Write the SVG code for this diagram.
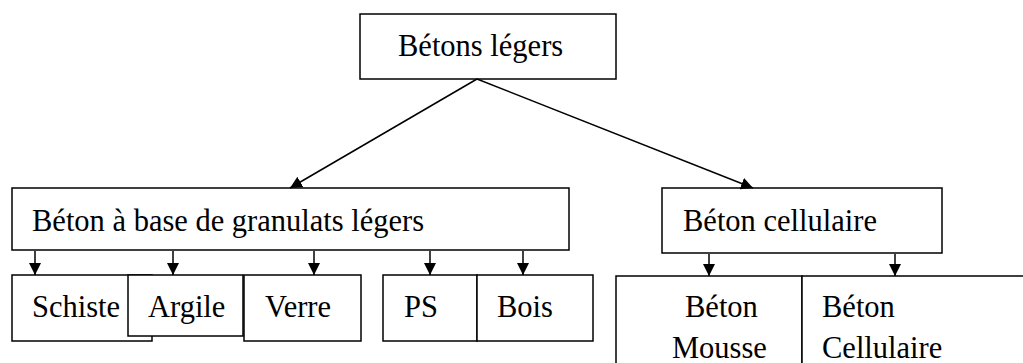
<svg xmlns="http://www.w3.org/2000/svg" width="1023" height="363" viewBox="0 0 1023 363">
<style>
rect{fill:#fff;stroke:#000;stroke-width:1.5}
text{font-family:"Liberation Serif","Times New Roman",serif;font-size:30.5px;fill:#000}
.c line{stroke:#000;stroke-width:1.5}
</style>
<defs>
<marker id="ah" viewBox="0 0 12 12" refX="12" refY="6" markerWidth="12" markerHeight="12" markerUnits="userSpaceOnUse" orient="auto">
<path d="M0,0 L12,6 L0,12 z" fill="#000"/>
</marker>
</defs>
<rect width="1023" height="363" style="stroke:none"/>
<g id="n-betons-legers"><rect x="360" y="14" width="256" height="65"/><text x="398" y="56">Bétons légers</text></g>
<g id="n-granulats"><rect x="12" y="188" width="557" height="62"/><text x="32" y="231">Béton à base de granulats légers</text></g>
<g id="n-cellulaire"><rect x="662" y="188" width="280" height="65"/><text x="683" y="231">Béton cellulaire</text></g>
<g id="n-schiste"><rect x="12" y="275" width="140" height="66"/><text x="32" y="317">Schiste</text></g>
<g id="n-argile"><rect x="128" y="275" width="115" height="61"/><text x="148" y="317">Argile</text></g>
<g id="n-verre"><rect x="244" y="275" width="117" height="66"/><text x="265" y="317">Verre</text></g>
<g id="n-ps"><rect x="383" y="275" width="94" height="66"/><text x="404" y="317">PS</text></g>
<g id="n-bois"><rect x="477" y="275" width="116" height="66"/><text x="497" y="317">Bois</text></g>
<g id="n-mousse"><rect x="616" y="276" width="186" height="100"/><text x="685" y="317">Béton</text><text x="672" y="358">Mousse</text></g>
<g id="n-beton-cellulaire"><rect x="802" y="276" width="240" height="100"/><text x="822" y="317">Béton</text><text x="822" y="358">Cellulaire</text></g>
<g id="connectors" class="c">
<line x1="477" y1="79" x2="290" y2="188" marker-end="url(#ah)"/>
<line x1="477" y1="79" x2="753" y2="188" marker-end="url(#ah)"/>
<line x1="35" y1="251" x2="35" y2="275" marker-end="url(#ah)"/>
<line x1="173" y1="251" x2="173" y2="275" marker-end="url(#ah)"/>
<line x1="314" y1="251" x2="314" y2="275" marker-end="url(#ah)"/>
<line x1="430" y1="251" x2="430" y2="275" marker-end="url(#ah)"/>
<line x1="523" y1="251" x2="523" y2="275" marker-end="url(#ah)"/>
<line x1="709" y1="254" x2="709" y2="276" marker-end="url(#ah)"/>
<line x1="895" y1="254" x2="895" y2="276" marker-end="url(#ah)"/>
</g>
</svg>
